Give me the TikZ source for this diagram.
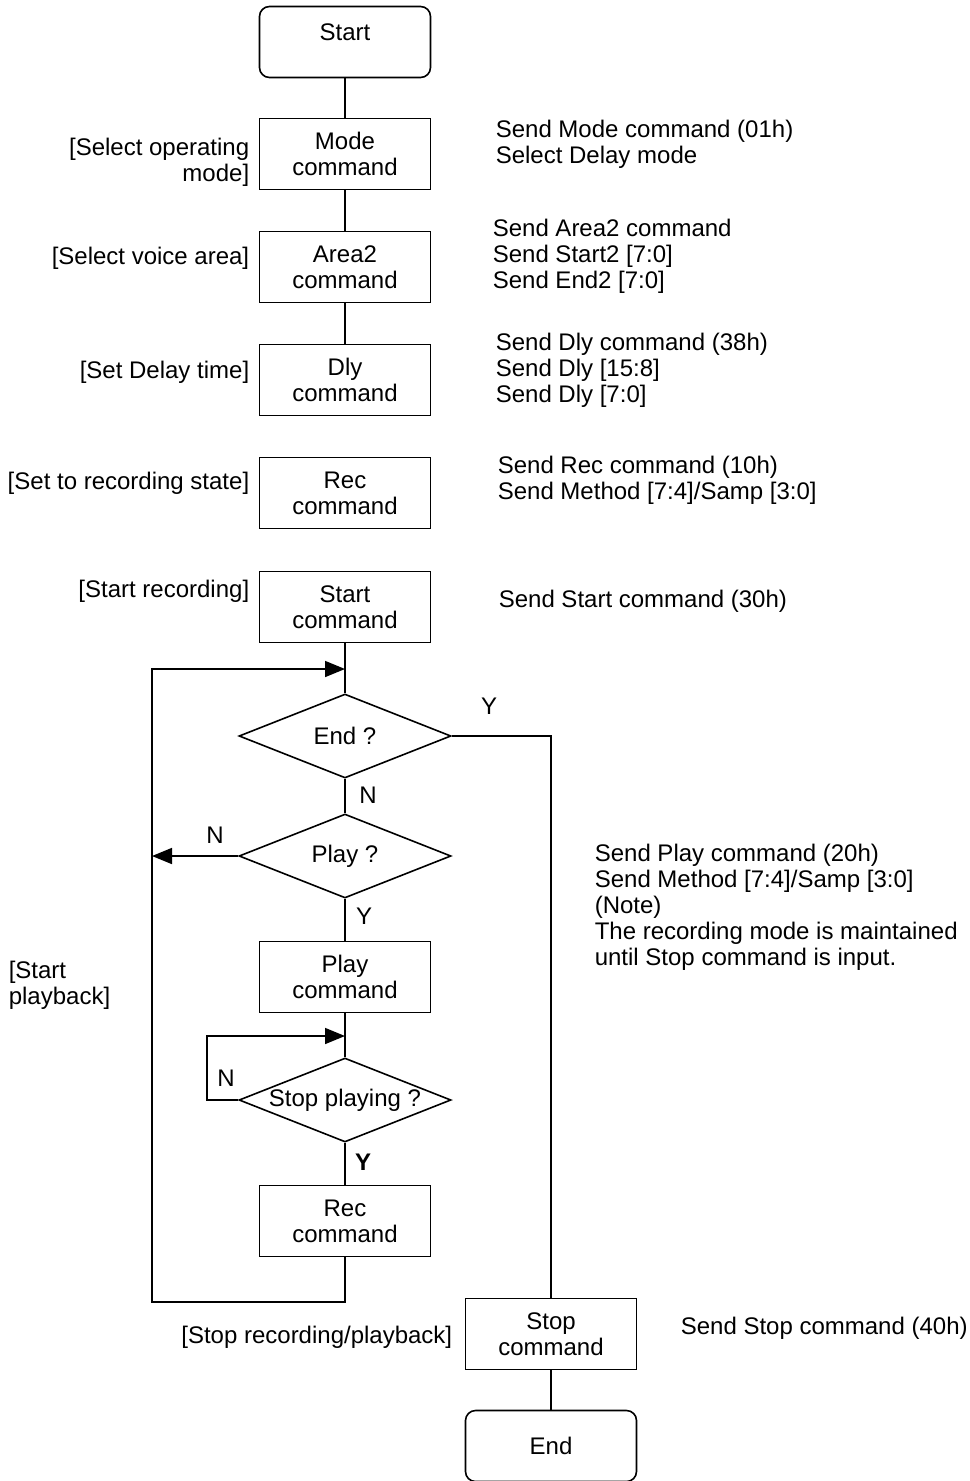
\documentclass[tikz,border=0pt]{standalone}
\usepackage{fontspec}
\setmainfont{Liberation Sans}
\usetikzlibrary{arrows.meta,shapes.geometric}
\begin{document}
\begin{tikzpicture}[x=0.5pt,y=-0.5pt, line width=0.8pt,
 every node/.style={font=\fontsize{12}{13}\selectfont},
 box/.style={draw, rectangle, minimum width=85.5pt, minimum height=35.5pt, align=center, inner sep=0pt},
 term/.style={box, rounded corners=5pt},
 dec/.style={draw, diamond, minimum width=106pt, minimum height=42pt, inner sep=0pt},
 lbl/.style={align=right, anchor=east, inner sep=0pt},
 note/.style={align=left, anchor=west, inner sep=0pt},
 tip/.style={-{Triangle[length=10pt,width=8pt]}}]
\useasboundingbox (0,0) rectangle (969,1481);

% main nodes
\node[term, label={[yshift=5pt]center:Start}] (start) at (345,42) {};
\node[box] (mode) at (345,154) {Mode\\command};
\node[box] (area) at (345,267) {Area2\\command};
\node[box] (dly) at (345,380) {Dly\\command};
\node[box] (rec) at (345,493) {Rec\\command};
\node[box] (startc) at (345,607) {Start\\command};
\node[dec, label=center:End ?] (qend) at (345,736) {};
\node[dec, label=center:Play ?] (qplay) at (345,856) {};
\node[box] (play) at (345,977) {Play\\command};
\node[dec, label=center:Stop playing ?] (qstop) at (345,1100) {};
\node[box] (rec2) at (345,1221) {Rec\\command};
\node[box] (stop) at (551,1334) {Stop\\command};
\node[term] (end) at (551,1446) {End};

% left labels
\node[lbl] (l1) at (250,162) {[Select operating\\mode]};
\node[lbl] (l2) at (250,258) {[Select voice area]};
\node[lbl] (l3) at (250,372) {[Set Delay time]};
\node[lbl] (l4) at (250,483) {[Set to recording state]};
\node[lbl] (l5) at (250,591) {[Start recording]};
\node[note] (l6) at (8,985) {[Start\\playback]};
\node[lbl] (l7) at (453,1337) {[Stop recording/playback]};

% right notes
\node[note] (n1) at (495,144) {Send Mode command (01h)\\Select Delay mode};
\node[note] (n2) at (492,256) {Send Area2 command\\Send Start2 [7:0]\\Send End2 [7:0]};
\node[note] (n3) at (495,370) {Send Dly command (38h)\\Send Dly [15:8]\\Send Dly [7:0]};
\node[note] (n4) at (497,480) {Send Rec command (10h)\\Send Method [7:4]/Samp [3:0]};
\node[note] (n5) at (498,601) {Send Start command (30h)};
\node[note] (n6) at (594,907) {Send Play command (20h)\\Send Method [7:4]/Samp [3:0]\\(Note)\\The recording mode is maintained\\until Stop command is input.};
\node[note] (n7) at (680,1328) {Send Stop command (40h)};

% branch labels
\node (yEnd) at (489,706) {Y};
\node (nEnd) at (368,795) {N};
\node (nPlay) at (215,835) {N};
\node (yPlay) at (364,916) {Y};
\node (nStop) at (226,1078) {N};
\node (yStop) at (363,1162) {\textbf{Y}};

% coordinates
\coordinate (j1) at (345,669);
\coordinate (lb) at (152,1302);
\coordinate (j2) at (345,1036);
\coordinate (sl) at (207,1100);

% connectors
\draw (start) -- (mode);
\draw (mode) -- (area);
\draw (area) -- (dly);
\draw (startc) -- (qend);
\draw[tip] (rec2.south) -- (rec2.south |- lb) -- (lb) -- (lb |- j1) -- (j1);
\draw (qend) -- (qplay);
\draw[tip] (qplay.west) -- (qplay.west -| lb);
\draw (qplay) -- (play);
\draw (play) -- (qstop);
\draw[tip] (qstop.west) -- (sl) |- (j2);
\draw (qstop) -- (rec2);
\draw (qend.east) -| (stop.north);
\draw (stop) -- (end);
\end{tikzpicture}
\end{document}
